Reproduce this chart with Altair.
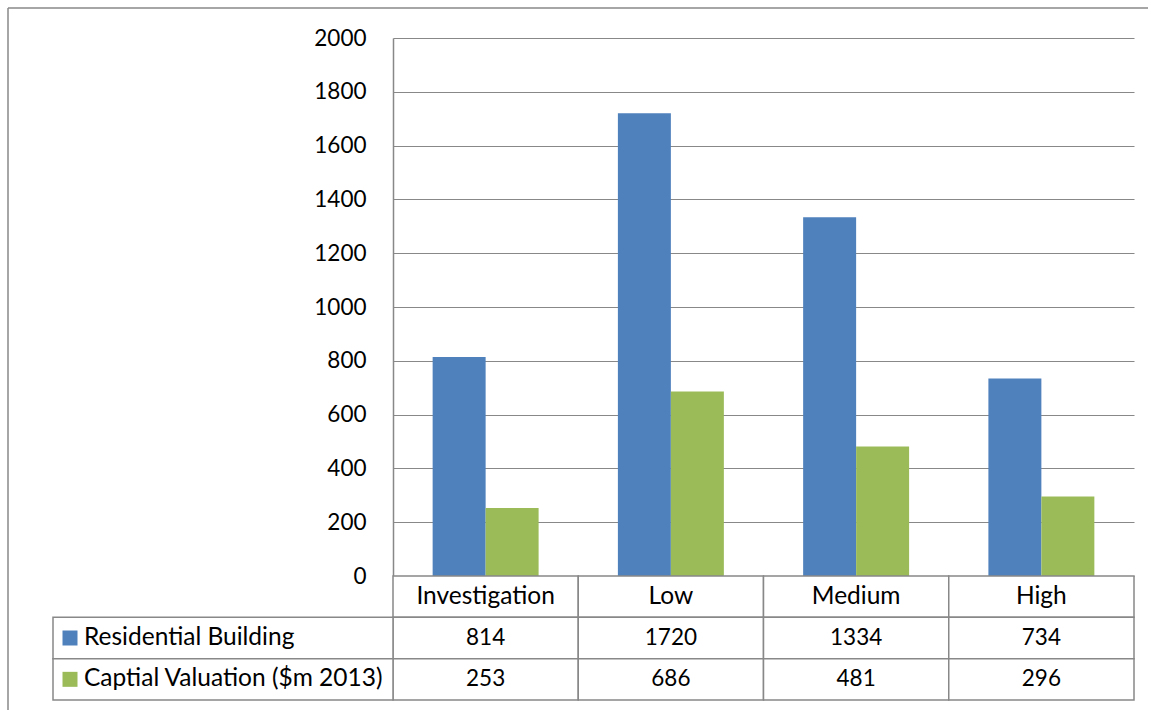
import altair as alt
import pandas as pd

# --- data -------------------------------------------------------------
categories = ["Investigation", "Low", "Medium", "High"]
series = ["Residential Building", "Captial Valuation ($m 2013)"]
residential = [814, 1720, 1334, 734]
valuation = [253, 686, 481, 296]
series_colors = ["#4F81BD", "#9BBB59"]
y_ticks = [0, 200, 400, 600, 800, 1000, 1200, 1400, 1600, 1800, 2000]

rows = []
for name, vals in zip(series, [residential, valuation]):
    for cat, v in zip(categories, vals):
        rows.append({"category": cat, "series": name, "value": v})
df = pd.DataFrame(rows)

# data table under the plot: a header row of categories, then one row per series
table_rows = ["header"] + series
cells = [{"row": "header", "category": c, "label": c, "kind": "name"} for c in categories]
for name, vals in zip(series, [residential, valuation]):
    for cat, v in zip(categories, vals):
        cells.append({"row": name, "category": cat, "label": str(v), "kind": "num"})
tdf = pd.DataFrame(cells)
legend_df = pd.DataFrame({"row": series})
one = pd.DataFrame({"k": [0]})

# --- style ------------------------------------------------------------
FONT = "Lato"
FS_NUM = 22.5
FS_TXT = 24.5
LINE = "#888888"
W, H = 741, 538
TABLE_H = 124
LEGEND_W = 340
FRAME_X = -385

color_scale = alt.Scale(domain=series, range=series_colors)

# --- column chart -----------------------------------------------------
bars = alt.Chart(df).mark_bar().encode(
    x=alt.X("category:N", sort=categories, axis=None,
            scale=alt.Scale(domain=categories, paddingInner=0.428, paddingOuter=0.214)),
    xOffset=alt.XOffset("series:N", sort=series, scale=alt.Scale(domain=series)),
    y=alt.Y("value:Q", scale=alt.Scale(domain=[0, 2000], nice=False),
            axis=alt.Axis(values=y_ticks, format="d", grid=True, gridColor=LINE, gridWidth=1.2,
                          ticks=False, domainColor=LINE, domainWidth=1.5,
                          labelPadding=27, labelFontSize=FS_NUM, labelFont=FONT,
                          labelColor="black", title=None)),
    color=alt.Color("series:N", scale=color_scale, legend=None),
)

# chart-area frame (left and top edges), split between the two panels
frame_left_top = alt.Chart(one).mark_rule(color=LINE, strokeWidth=1.5).encode(
    x=alt.value(FRAME_X), y=alt.value(-30), y2=alt.value(H))
frame_top = alt.Chart(one).mark_rule(color=LINE, strokeWidth=1.5).encode(
    x=alt.value(FRAME_X), x2=alt.value(755), y=alt.value(-30))

top = alt.layer(frame_left_top, frame_top, bars).properties(width=W, height=H)

# --- data table -------------------------------------------------------
xt = alt.X("category:N", sort=categories, axis=None,
           scale=alt.Scale(domain=categories, paddingInner=0, paddingOuter=0))
yt = alt.Y("row:N", sort=table_rows, axis=None,
           scale=alt.Scale(domain=table_rows, paddingInner=0, paddingOuter=0))

cell_rect = alt.Chart(tdf).mark_rect(fill="white", stroke=LINE, strokeWidth=1.5).encode(x=xt, y=yt)
cell_names = alt.Chart(tdf).transform_filter(alt.datum.kind == "name").mark_text(
    font=FONT, fontSize=FS_TXT, color="black").encode(x=xt, y=yt, text="label:N")
cell_nums = alt.Chart(tdf).transform_filter(alt.datum.kind == "num").mark_text(
    font=FONT, fontSize=FS_NUM, color="black").encode(x=xt, y=yt, text="label:N")

legend_cells = alt.Chart(legend_df).mark_rect(fill="white", stroke=LINE, strokeWidth=1.5).encode(
    x=alt.value(-LEGEND_W), x2=alt.value(0), y=yt)
legend_keys = alt.Chart(legend_df).mark_square(size=225, opacity=1, filled=True).encode(
    x=alt.value(-323), y=yt, color=alt.Color("row:N", scale=color_scale, legend=None))
legend_text = alt.Chart(legend_df).mark_text(font=FONT, fontSize=FS_TXT, color="black", align="left").encode(
    x=alt.value(-309), y=yt, text="row:N")

frame_left_bottom = alt.Chart(one).mark_rule(color=LINE, strokeWidth=1.5).encode(
    x=alt.value(FRAME_X), y=alt.value(0), y2=alt.value(TABLE_H + 10))

table = alt.layer(frame_left_bottom, cell_rect, legend_cells, cell_names, cell_nums,
                  legend_keys, legend_text).properties(width=W, height=TABLE_H)

chart = alt.vconcat(top, table, spacing=0, bounds="flush").properties(
    padding={"left": 7, "top": 7, "right": 0, "bottom": 0},
    background="white",
).configure_view(stroke=None)

chart.save("out.html", embed_options={"renderer": "svg", "actions": False})
